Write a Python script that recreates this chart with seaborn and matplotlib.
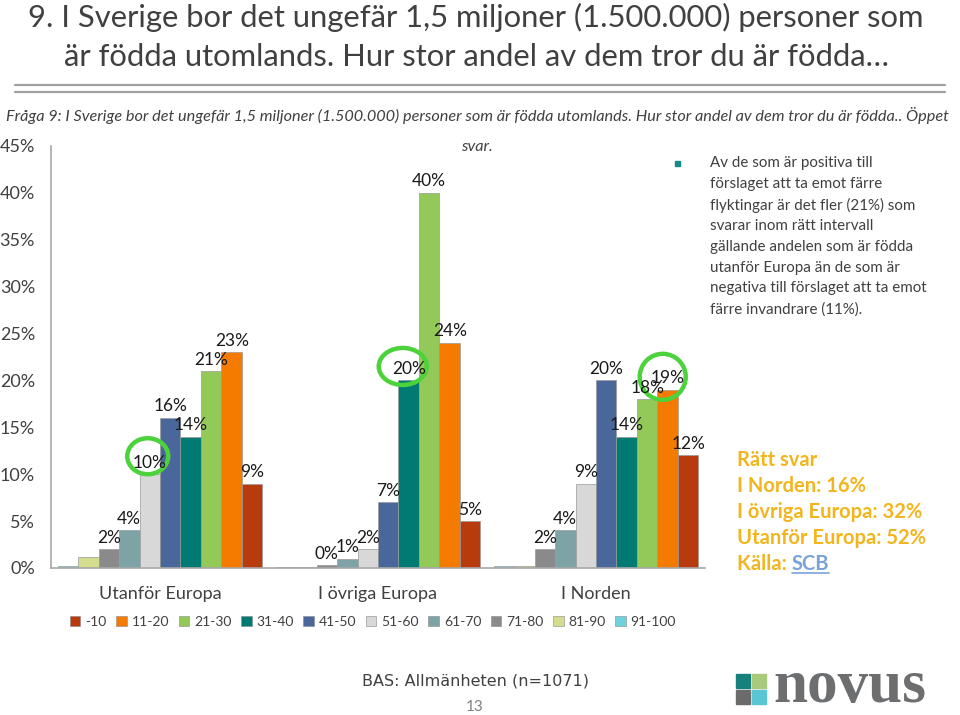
import matplotlib
matplotlib.use("Agg")
import matplotlib.pyplot as plt
import seaborn as sns
import pandas as pd
from matplotlib.patches import Patch, Rectangle, Ellipse
from matplotlib.lines import Line2D
from matplotlib.transforms import ScaledTranslation

# ---------------- data ----------------
regions = ["Utanför Europa", "I övriga Europa", "I Norden"]
intervals = ["-10", "11-20", "21-30", "31-40", "41-50", "51-60", "61-70", "71-80", "81-90", "91-100"]
colors = ["#B83B0E", "#F57A00", "#93C958", "#007A73", "#4A679B",
          "#D8D8D8", "#7EA3A6", "#8A8A8A", "#D4DC8E", "#6FD3DE"]

utanfor = [9, 23, 21, 14, 16, 10, 4, 2, 1.2, 0.2]
ovriga = [5, 24, 40, 20, 7, 2, 1, 0.3, 0.15, 0.15]
norden = [12, 19, 18, 14, 20, 9, 4, 2, 0.2, 0.2]

utanfor_labels = ["9%", "23%", "21%", "14%", "16%", "10%", "4%", "2%", "", ""]
ovriga_labels = ["5%", "24%", "40%", "20%", "7%", "2%", "1%", "0%", "", ""]
norden_labels = ["12%", "19%", "18%", "14%", "20%", "9%", "4%", "2%", "", ""]

# highlighted (correct) intervals: (region, interval) -> (width px, height px, dx px, dy px)
circled = {("Utanför Europa", "51-60"): (41, 36, -2, 18),
           ("I övriga Europa", "31-40"): (48, 37, -6, 14),
           ("I Norden", "11-20"): (46, 46, -5, 13)}

yticks = [0, 5, 10, 15, 20, 25, 30, 35, 40, 45]
ytick_labels = ["0%", "5%", "10%", "15%", "20%", "25%", "30%", "35%", "40%", "45%"]

title_lines = ["9. I Sverige bor det ungefär 1,5 miljoner (1.500.000) personer som",
               "är födda utomlands. Hur stor andel av dem tror du är födda…"]
subtitle_lines = ["Fråga 9: I Sverige bor det ungefär 1,5 miljoner (1.500.000) personer som är födda utomlands. "
                  "Hur stor andel av dem tror du är födda.. Öppet", "svar."]
note = ("Av de som är positiva till\nförslaget att ta emot färre\nflyktingar är det fler (21%) som\n"
        "svarar inom rätt intervall\ngällande andelen som är födda\nutanför Europa än de som är\n"
        "negativa till förslaget att ta emot\nfärre invandrare (11%).")
answer_lines = ["Rätt svar", "I Norden: 16%", "I övriga Europa: 32%", "Utanför Europa: 52%"]
source_prefix = "Källa: "
source_name = "SCB"
base_text = "BAS: Allmänheten (n=1071)"
page_no = "13"

# ---------------- style ----------------
sns.set_theme(style="white")
plt.rcParams["font.family"] = ["Lato", "DejaVu Sans"]
TXT = "#404040"

fig = plt.figure(figsize=(9.6, 7.15), dpi=100)
W, H = 960, 715
DPI = 100.0
ax = fig.add_axes([51 / W, 1 - 568 / H, (705 - 51) / W, (568 - 146) / H])

rows = []
for reg, vals in zip(regions, [utanfor, ovriga, norden]):
    for iv, v in zip(intervals, vals):
        rows.append({"region": reg, "interval": iv, "value": v})
df = pd.DataFrame(rows)
palette = dict(zip(intervals, colors))
hue_order = intervals[::-1]

sns.barplot(data=df, x="region", y="value", hue="interval", order=regions,
            hue_order=hue_order, palette=palette, width=0.94, saturation=1,
            edgecolor="#9a9a9a", linewidth=0.5, legend=False, ax=ax)

label_map = {}
for reg, labs in zip(regions, [utanfor_labels, ovriga_labels, norden_labels]):
    for iv, lab in zip(intervals, labs):
        label_map[(reg, iv)] = lab

for iv, cont in zip(hue_order, ax.containers):
    for reg, bar in zip(regions, cont):
        lab = label_map[(reg, iv)]
        x = bar.get_x() + bar.get_width() / 2
        y = bar.get_height()
        if lab:
            ax.annotate(lab, xy=(x, y), xytext=(0, 2.5), textcoords="offset points",
                        ha="center", va="bottom", fontsize=12.5, color="#1a1a1a")
        if (reg, iv) in circled:
            cw, ch, dx, dy = circled[(reg, iv)]
            tr = fig.dpi_scale_trans + ScaledTranslation(x, y, ax.transData)
            ax.add_artist(Ellipse((dx / DPI, dy / DPI), cw / DPI, ch / DPI, transform=tr,
                                  fill=False, ec="#4CD23A", lw=3.2, clip_on=False))

ax.set_ylim(0, 45)
ax.set_xlim(-0.5, 2.5)
ax.set_yticks(yticks)
ax.set_yticklabels(ytick_labels, fontsize=13, color=TXT)
ax.set_xticks(range(len(regions)))
ax.set_xticklabels(regions, fontsize=13, color=TXT)
ax.set_xticks([-0.5, 0.5, 1.5, 2.5], minor=True)
ax.tick_params(axis="x", which="major", length=0, pad=13)
ax.tick_params(axis="x", which="minor", length=5, color="#a0a0a0", width=1, direction="out")
ax.tick_params(axis="y", length=4.5, color="#a0a0a0", width=1, direction="out", pad=7)
ax.set_xlabel("")
ax.set_ylabel("")
for s in ["top", "right"]:
    ax.spines[s].set_visible(False)
for s in ["left", "bottom"]:
    ax.spines[s].set_color("#a8a8a8")
    ax.spines[s].set_linewidth(1.2)
ax.grid(False)

# legend
handles = [Patch(facecolor=c, edgecolor="#888888", linewidth=0.4) for c in colors]
fig.legend(handles, intervals, loc="center", bbox_to_anchor=(373 / W, 1 - 622 / H),
           ncol=10, frameon=False, fontsize=10, handlelength=0.75, handleheight=0.75,
           handletextpad=0.35, columnspacing=0.7, labelcolor=TXT)

# title and lines
for yy, line in zip((17, 57), title_lines):
    fig.text(476 / W, 1 - yy / H, line, ha="center", va="center", fontsize=22.3,
             color=TXT, fontweight="normal")
for yy in (85, 92):
    fig.add_artist(Line2D([15 / W, 945 / W], [1 - yy / H, 1 - yy / H],
                          color="#a0a0a0", lw=1.6, transform=fig.transFigure))
for yy, line in zip((116, 147), subtitle_lines):
    fig.text(477 / W, 1 - yy / H, line, ha="center", va="center", fontsize=11.7,
             style="italic", color=TXT)

# right note
fig.add_artist(Rectangle((675 / W, 1 - 166 / H), 5 / W, 5 / H, color="#168A86",
                         transform=fig.transFigure))
fig.text(710 / W, 1 - 156 / H, note, ha="left", va="top", fontsize=10.9, color=TXT,
         linespacing=1.6)

# correct answer text
GOLD = "#F2B51E"
for i, line in enumerate(answer_lines):
    fig.text(737 / W, 1 - (460 + 26 * i) / H, line, ha="left", va="center", fontsize=14.5,
             fontweight="bold", color=GOLD)
t_src = fig.text(737 / W, 1 - 564 / H, source_prefix, ha="left", va="center", fontsize=14.5,
                 fontweight="bold", color=GOLD)
fig.canvas.draw()
r = fig.canvas.get_renderer()
bb = t_src.get_window_extent(r)
t_scb = fig.text(bb.x1 / W, 1 - 564 / H, source_name, ha="left", va="center", fontsize=14.5,
                 fontweight="bold", color="#7BA3D8")
fig.canvas.draw()
bs = t_scb.get_window_extent(r)
fig.add_artist(Line2D([bs.x0 / W, bs.x1 / W], [(bs.y0 + 1.5) / H, (bs.y0 + 1.5) / H],
                      color="#7BA3D8", lw=1.2, transform=fig.transFigure))

# bottom texts
fig.text(475 / W, 1 - 681 / H, base_text, ha="center", va="center", fontsize=11.5,
         color=TXT, family="DejaVu Sans")
fig.text(475 / W, 1 - 707 / H, page_no, ha="center", va="center", fontsize=11,
         color="#808080")

# novus logo
sq = [(736, 674, "#16807C"), (752, 674, "#A9C97D"), (736, 690, "#6B6B6B"), (752, 690, "#5AC6D3")]
for (lx, ly, c) in sq:
    fig.add_artist(Rectangle((lx / W, 1 - (ly + 14) / H), 14 / W, 14 / H, color=c,
                             transform=fig.transFigure))
fig.text(773 / W, 1 - 702 / H, "novus", ha="left", va="baseline", fontsize=44,
         fontweight="bold", color="#6D6E70", family="Liberation Serif")

fig.savefig("out.png", dpi=100)
